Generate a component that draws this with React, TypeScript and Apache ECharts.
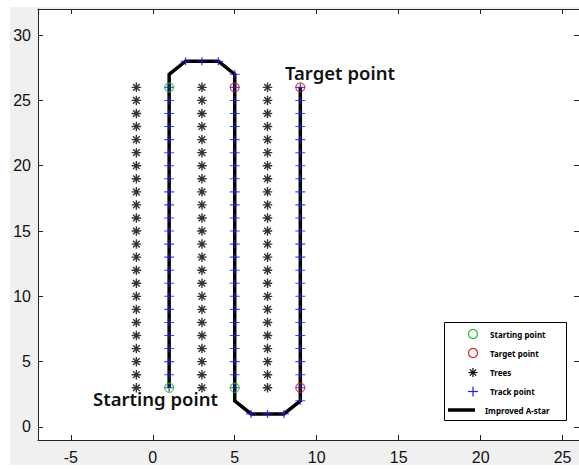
import React, { useEffect, useRef } from "react";
import * as echarts from "echarts";

// Axis ticks
const xTickValues = [-5, 0, 5, 10, 15, 20, 25];
const yTickValues = [0, 5, 10, 15, 20, 25, 30];

// Trees: columns x rows
const treeColumns = [-1, 3, 7];
const treeRows = [3, 4, 5, 6, 7, 8, 9, 10, 11, 12, 13, 14, 15, 16, 17, 18, 19, 20, 21, 22, 23, 24, 25, 26];

// Improved A-star path vertices
const pathX = [1, 1, 2, 4, 5, 5, 6, 8, 9, 9];
const pathY = [3, 27, 28, 28, 27, 2, 1, 1, 2, 26];

// Track points: along the three vertical runs plus the turns
const trackColumns = [1, 5, 9];
const trackRows = [3, 4, 5, 6, 7, 8, 9, 10, 11, 12, 13, 14, 15, 16, 17, 18, 19, 20, 21, 22, 23, 24, 25, 26];
const turnTrackX = [2, 3, 4, 5, 6, 7, 8, 9];
const turnTrackY = [28, 28, 28, 27, 1, 1, 1, 2];

// Starting / target points
const startX = [1, 1, 5];
const startY = [3, 26, 3];
const targetX = [5, 9, 9];
const targetY = [26, 26, 3];

const legendNames = ["Starting point", "Target point", "Trees", "Track point", "Improved A-star"];

const GREEN = "#1ec81e";
const RED = "#e02020";
const BLUE = "#1f1fe0";

const ASTERISK = "path://M0,5L10,5M5,0L5,10M1.5,1.5L8.5,8.5M8.5,1.5L1.5,8.5";
const PLUS = "path://M0,5L10,5M5,0L5,10";

export default function App() {
  const ref = useRef<HTMLDivElement>(null);

  useEffect(() => {
    if (!ref.current) return;
    const chart = echarts.init(ref.current, undefined, { renderer: "svg" });

    const trees: number[][] = [];
    treeColumns.forEach((x) => treeRows.forEach((y) => trees.push([x, y])));
    const track: number[][] = [];
    trackColumns.forEach((x) => trackRows.forEach((y) => track.push([x, y])));
    turnTrackX.forEach((x, i) => track.push([x, turnTrackY[i]]));
    const path = pathX.map((x, i) => [x, pathY[i]]);
    const starts = startX.map((x, i) => [x, startY[i]]);
    const targets = targetX.map((x, i) => [x, targetY[i]]);

    const labelFont = {
      fontFamily: "Liberation Sans, Arial, sans-serif",
      fontSize: 16,
      color: "#111",
    };
    const axisLine = { show: true, onZero: false, lineStyle: { color: "#222", width: 1 } };

    const lx = 444.5, ly = 322.5, lw = 122, lh = 98;
    const rowY = [334, 353, 372.5, 391.5, 410];
    const iconX = 473;
    const txtStyle = (text: string, x: number, y: number) => ({
      type: "text",
      x,
      y,
      z: 101,
      style: {
        text,
        fill: "#000",
        fontSize: 8,
        fontWeight: "bold",
        fontFamily: "Noto Sans, sans-serif",
        align: "left",
        verticalAlign: "middle",
        textAlign: "left",
        textVerticalAlign: "middle",
      },
    });
    const line = (x1: number, y1: number, x2: number, y2: number, stroke: string, w: number) => ({
      type: "line",
      z: 101,
      shape: { x1, y1, x2, y2 },
      style: { stroke, lineWidth: w },
    });

    const annot = (text: string, x: number, y: number) => ({
      type: "text",
      x,
      y,
      z: 100,
      style: {
        text,
        fill: "#111",
        fontSize: 18.5,
        fontWeight: 600,
        fontFamily: "Noto Sans, sans-serif",
        align: "left",
        verticalAlign: "middle",
        textAlign: "left",
        textVerticalAlign: "middle",
      },
    });

    const graphics: any[] = [
      {
        type: "rect",
        z: 100,
        shape: { x: lx, y: ly, width: lw, height: lh },
        style: { fill: "#fff", stroke: "#000", lineWidth: 1 },
      },
      { type: "circle", z: 101, shape: { cx: iconX, cy: rowY[0], r: 4.5 }, style: { fill: "none", stroke: GREEN, lineWidth: 1.2 } },
      txtStyle(legendNames[0], 490, rowY[0]),
      { type: "circle", z: 101, shape: { cx: iconX, cy: rowY[1], r: 4.5 }, style: { fill: "none", stroke: RED, lineWidth: 1.2 } },
      txtStyle(legendNames[1], 490, rowY[1]),
      line(iconX - 4.5, rowY[2], iconX + 4.5, rowY[2], "#000", 1.2),
      line(iconX, rowY[2] - 4.5, iconX, rowY[2] + 4.5, "#000", 1.2),
      line(iconX - 3.2, rowY[2] - 3.2, iconX + 3.2, rowY[2] + 3.2, "#000", 1.2),
      line(iconX + 3.2, rowY[2] - 3.2, iconX - 3.2, rowY[2] + 3.2, "#000", 1.2),
      txtStyle(legendNames[2], 490, rowY[2]),
      line(iconX - 5, rowY[3], iconX + 5, rowY[3], BLUE, 1.2),
      line(iconX, rowY[3] - 5, iconX, rowY[3] + 5, BLUE, 1.2),
      txtStyle(legendNames[3], 490, rowY[3]),
      line(448, rowY[4], 475, rowY[4], "#000", 3.5),
      txtStyle(legendNames[4], 485, rowY[4]),
      annot("Target point", 285, 72),
      annot("Starting point", 93, 398),
    ];

    const tick = (vals: number[]) => ({
      show: true,
      inside: true,
      length: 5,
      lineStyle: { color: "#222" },
      customValues: vals,
    });

    chart.setOption({
      animation: false,
      backgroundColor: "transparent",
      grid: {
        left: 38,
        top: 9,
        right: -2,
        bottom: 29,
        show: true,
        backgroundColor: "#fff",
        borderWidth: 0,
        containLabel: false,
      },
      xAxis: [
        {
          type: "value",
          min: -7,
          max: 26,
          position: "bottom",
          axisLine,
          axisTick: tick(xTickValues),
          axisLabel: { ...labelFont, margin: 9, customValues: xTickValues },
          splitLine: { show: false },
        },
        {
          type: "value",
          min: -7,
          max: 26,
          position: "top",
          axisLine,
          axisTick: tick(xTickValues),
          axisLabel: { show: false },
          splitLine: { show: false },
        },
      ],
      yAxis: [
        {
          type: "value",
          min: -1,
          max: 32,
          position: "left",
          axisLine,
          axisTick: tick(yTickValues),
          axisLabel: { ...labelFont, margin: 7, customValues: yTickValues },
          splitLine: { show: false },
        },
        {
          type: "value",
          min: -1,
          max: 32,
          position: "right",
          axisLine,
          axisTick: tick(yTickValues),
          axisLabel: { show: false },
          splitLine: { show: false },
        },
      ],
      series: [
        {
          name: legendNames[4],
          type: "line",
          data: path,
          showSymbol: false,
          symbol: "none",
          z: 2,
          lineStyle: { color: "#000", width: 3.5, join: "miter" },
        },
        {
          name: legendNames[2],
          type: "scatter",
          data: trees,
          symbol: ASTERISK,
          symbolSize: 9.5,
          z: 3,
          itemStyle: { color: "rgba(0,0,0,0)", borderColor: "#000", borderWidth: 1.4 },
        },
        {
          name: legendNames[3],
          type: "scatter",
          data: track,
          symbol: PLUS,
          symbolSize: [10, 8],
          z: 4,
          itemStyle: { color: "rgba(0,0,0,0)", borderColor: BLUE, borderWidth: 1.2 },
        },
        {
          name: legendNames[0],
          type: "scatter",
          data: starts,
          symbol: "circle",
          symbolSize: 9,
          z: 5,
          itemStyle: { color: "rgba(0,0,0,0)", borderColor: GREEN, borderWidth: 1.2 },
        },
        {
          name: legendNames[1],
          type: "scatter",
          data: targets,
          symbol: "circle",
          symbolSize: 9,
          z: 5,
          itemStyle: { color: "rgba(0,0,0,0)", borderColor: RED, borderWidth: 1.2 },
        },
      ],
      graphic: { elements: graphics },
    });

    return () => chart.dispose();
  }, []);

  return (
    <div style={{ position: "absolute", left: 0, top: 0, width: 579, height: 469, background: "#fff", overflow: "hidden" }}>
      <div style={{ position: "absolute", left: 10, top: 7, width: 569, height: 458, background: "#f0f0f0" }} />
      <div ref={ref} style={{ position: "absolute", left: 0, top: 0, width: 579, height: 469 }} />
    </div>
  );
}
